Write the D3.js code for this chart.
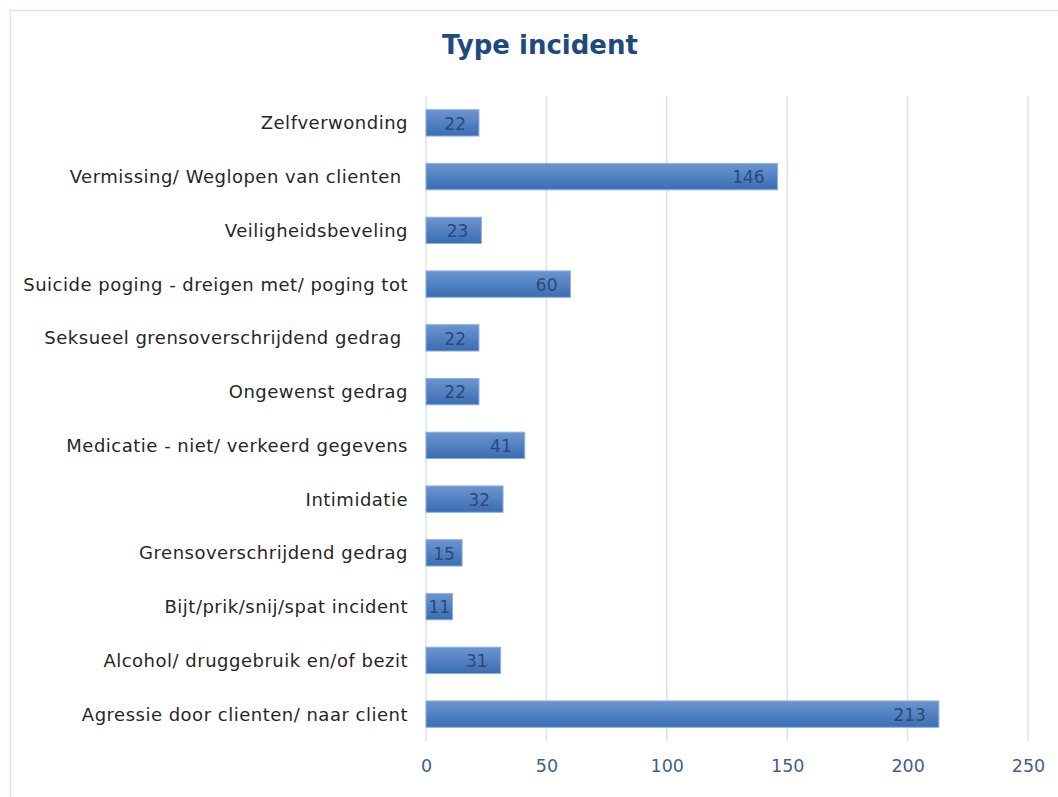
<!DOCTYPE html>
<html>
<head>
<meta charset="utf-8">
<script src="https://cdn.jsdelivr.net/npm/d3@7"></script>
<style>
  body { margin: 0; background: #fff; }
  svg { display: block; font-family: "DejaVu Sans", Verdana, sans-serif; }
</style>
</head>
<body>
<svg id="chart" width="1058" height="797"></svg>
<script>
// data, top to bottom as in the chart
var categories = [
    "Zelfverwonding",
    "Vermissing/ Weglopen van clienten ",
    "Veiligheidsbeveling",
    "Suicide poging - dreigen met/ poging tot",
    "Seksueel grensoverschrijdend gedrag ",
    "Ongewenst gedrag",
    "Medicatie - niet/ verkeerd gegevens",
    "Intimidatie",
    "Grensoverschrijdend gedrag",
    "Bijt/prik/snij/spat incident",
    "Alcohol/ druggebruik en/of bezit",
    "Agressie door clienten/ naar client"
];
var counts = [22, 146, 23, 60, 22, 22, 41, 32, 15, 11, 31, 213];
var xTicks = [0, 50, 100, 150, 200, 250];

var svg = d3.select("#chart");

// chart frame
svg.append("rect")
    .attr("x", 10.5).attr("y", 10.5)
    .attr("width", 1100).attr("height", 1000)
    .attr("fill", "none")
    .attr("stroke", "#dce6f4")
    .attr("stroke-width", 1.5);

var defs = svg.append("defs");
var grad = defs.append("linearGradient")
    .attr("id", "barGrad")
    .attr("x1", 0).attr("y1", 0).attr("x2", 0).attr("y2", 1);
grad.append("stop").attr("offset", "0%").attr("stop-color", "#6c95d0");
grad.append("stop").attr("offset", "100%").attr("stop-color", "#3a6db3");

var x = d3.scaleLinear().domain([0, 250]).range([426, 1028]);
var y = d3.scaleBand().domain(categories).range([96, 741]).paddingInner(0.51).paddingOuter(0.255);

// gridlines
svg.append("g")
    .selectAll("line")
    .data(xTicks)
    .enter().append("line")
    .attr("x1", function(d) { return x(d); })
    .attr("x2", function(d) { return x(d); })
    .attr("y1", 96)
    .attr("y2", 741)
    .attr("stroke", "#d9e3f0")
    .attr("stroke-width", 1.5);

// x axis labels
var xAxis = svg.append("g")
    .attr("transform", "translate(0,741)")
    .call(d3.axisBottom(x).tickValues(xTicks).tickSize(0).tickPadding(19));
xAxis.select(".domain").remove();
xAxis.selectAll("text")
    .attr("fill", "#3f5f8c")
    .style("font-size", "17.5px")
    .style("font-family", "'DejaVu Sans', Verdana, sans-serif");

// category labels
var yAxis = svg.append("g")
    .attr("transform", "translate(426,0)")
    .call(d3.axisLeft(y).tickSize(0).tickPadding(18));
yAxis.select(".domain").remove();
yAxis.selectAll("text")
    .attr("fill", "#262626")
    .attr("dy", "0.36em")
    .style("font-size", "18px")
    .style("letter-spacing", "0.5px")
    .style("font-family", "'DejaVu Sans', Verdana, sans-serif")
    .attr("xml:space", "preserve");

// bars
svg.append("g")
    .selectAll("rect")
    .data(counts)
    .enter().append("rect")
    .attr("x", x(0))
    .attr("y", function(d, i) { return y(categories[i]); })
    .attr("width", function(d) { return x(d) - x(0); })
    .attr("height", y.bandwidth())
    .attr("fill", "url(#barGrad)")
    .attr("stroke", "#8fb0de")
    .attr("stroke-width", 1);

// value labels, inside end
svg.append("g")
    .selectAll("text")
    .data(counts)
    .enter().append("text")
    .attr("x", function(d) {
        var w = String(d).length * 10.8;
        var barW = x(d) - x(0);
        return Math.max(x(d) - 13 - w / 2, x(0) + barW / 2);
    })
    .attr("y", function(d, i) { return y(categories[i]) + y.bandwidth() / 2; })
    .attr("dy", "0.4em")
    .attr("text-anchor", "middle")
    .attr("fill", "#2a4a78")
    .style("font-size", "17px")
    .text(function(d) { return d; });

// title
svg.append("text")
    .attr("x", 540)
    .attr("y", 54)
    .attr("text-anchor", "middle")
    .attr("fill", "#1f4a7e")
    .style("font-size", "26px")
    .style("font-weight", "bold")
    .text("Type incident");
</script>
</body>
</html>
